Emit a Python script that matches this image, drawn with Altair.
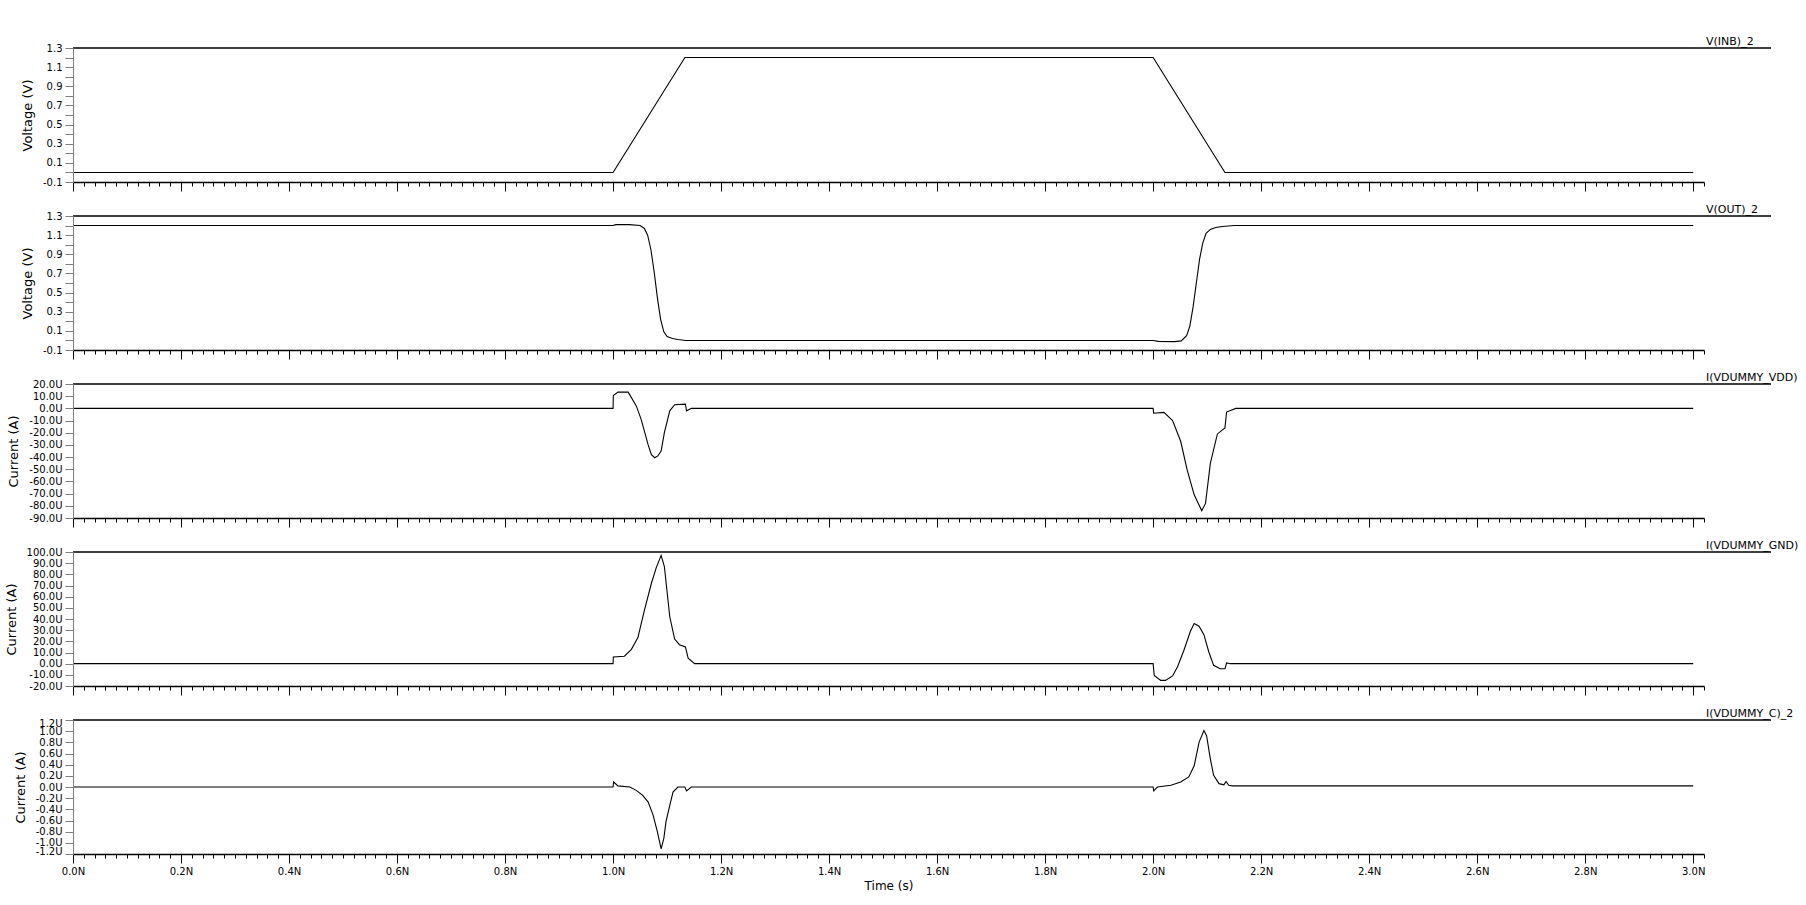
import altair as alt
import pandas as pd

# ---------------- data (time in ns, currents in uA) ----------------
t_inb = [0.0, 1.0, 1.133, 2.0, 2.133, 3.0]
v_inb = [0.0, 0.0, 1.2, 1.2, 0.0, 0.0]

t_out = [0.0, 1.0, 1.005, 1.03, 1.05, 1.058, 1.064, 1.07, 1.076, 1.082, 1.088, 1.094,
         1.10, 1.11, 1.12, 1.135, 1.15, 2.0, 2.01, 2.04, 2.052, 2.062, 2.068, 2.074,
         2.08, 2.086, 2.092, 2.098, 2.106, 2.116, 2.128, 2.15, 3.0]
v_out = [1.2, 1.2, 1.21, 1.21, 1.2, 1.17, 1.1, 0.95, 0.72, 0.45, 0.22, 0.09,
         0.04, 0.02, 0.01, 0.0, 0.0, 0.0, -0.01, -0.012, -0.005, 0.05, 0.15, 0.35,
         0.6, 0.85, 1.02, 1.12, 1.16, 1.18, 1.19, 1.2, 1.2]

t_vdd = [0.0, 1.0, 1.0005, 1.009, 1.028, 1.043, 1.052, 1.065, 1.071, 1.077, 1.083, 1.089,
         1.095, 1.105, 1.114, 1.134, 1.136, 1.145, 2.0, 2.001, 2.02, 2.036, 2.051, 2.063,
         2.076, 2.09, 2.097, 2.106, 2.119, 2.133, 2.136, 2.153, 3.0]
i_vdd = [0.0, 0.0, 10.5, 13.3, 13.3, 2.0, -9.0, -30.0, -38.0, -40.5, -39.0, -35.0,
         -20.0, -2.0, 3.0, 3.5, -2.0, 0.0, 0.0, -4.0, -3.3, -10.0, -27.0, -50.5,
         -71.0, -84.0, -78.0, -45.0, -21.0, -16.0, -3.0, 0.0, 0.0]

t_gnd = [0.0, 1.0, 1.0005, 1.021, 1.034, 1.046, 1.058, 1.071, 1.080, 1.089, 1.095, 1.105,
         1.114, 1.123, 1.134, 1.139, 1.151, 2.0, 2.002, 2.014, 2.023, 2.036, 2.045, 2.057,
         2.069, 2.076, 2.085, 2.094, 2.103, 2.112, 2.124, 2.133, 2.136, 2.143, 3.0]
i_gnd = [0.0, 0.0, 6.0, 6.7, 12.8, 23.4, 47.8, 72.0, 86.0, 97.0, 87.0, 42.0,
         22.0, 17.0, 15.0, 5.0, 0.0, 0.0, -10.6, -15.0, -15.0, -11.0, -3.0, 12.0,
         29.0, 36.0, 33.5, 26.0, 10.7, -1.5, -4.6, -4.6, 0.6, 0.0, 0.0]

t_c = [0.0, 1.0, 1.001, 1.009, 1.031, 1.043, 1.055, 1.065, 1.074, 1.082, 1.089, 1.094,
       1.098, 1.105, 1.111, 1.12, 1.133, 1.136, 1.145, 2.0, 2.001, 2.008, 2.033, 2.051,
       2.066, 2.076, 2.085, 2.094, 2.099, 2.106, 2.112, 2.122, 2.131, 2.135, 2.14, 2.147, 3.0]
i_c = [0.0, 0.0, 0.09, 0.02, 0.0, -0.06, -0.15, -0.27, -0.5, -0.8, -1.11, -0.92,
       -0.62, -0.33, -0.09, 0.0, 0.0, -0.07, 0.0, 0.0, -0.07, 0.0, 0.03, 0.09,
       0.18, 0.38, 0.8, 1.01, 0.92, 0.5, 0.21, 0.06, 0.04, 0.1, 0.03, 0.02, 0.02]

names = ["V(INB)_2", "V(OUT)_2", "I(VDUMMY_VDD)", "I(VDUMMY_GND)", "I(VDUMMY_C)_2"]
ytitles = ["Voltage (V)", "Voltage (V)", "Current (A)", "Current (A)", "Current (A)"]
domains = [[-0.1, 1.3], [-0.1, 1.3], [-90, 20], [-20, 100], [-1.2, 1.2]]
volt_ticks = [round(-0.1 + 0.1 * k, 1) for k in range(15)]
yticks = [volt_ticks, volt_ticks,
          list(range(-90, 21, 10)), list(range(-20, 101, 10)),
          [-1.2, -1.0, -0.8, -0.6, -0.4, -0.2, 0.0, 0.2, 0.4, 0.6, 0.8, 1.0, 1.2]]
series_t = [t_inb, t_out, t_vdd, t_gnd, t_c]
series_v = [v_inb, v_out, i_vdd, i_gnd, i_c]

x_major = [round(0.2 * k, 1) for k in range(16)]
x_minor = [round(0.02 * k, 2) for k in range(152)]
x_domain = [0, 3.02]

W = 1631
H = 134
FONT = "DejaVu Sans"

volt_label = ("(abs(round(datum.value*10)) % 2 == 1) ? "
              "((datum.value < 0 ? '-' : '') + format(abs(datum.value), '.1f')) : ''")
cur_label = "(datum.value < -0.0001 ? '-' : '') + format(abs(datum.value), '.1f') + 'U'"


def yaxis(i):
    kw = dict(values=yticks[i], labelExpr=volt_label if i < 2 else cur_label,
              domainColor="#808080", tickColor="#808080", tickSize=8,
              labelPadding=3, labelOverlap=False,
              labelFont=FONT, labelFontSize=10, zindex=2,
              labelColor="black", grid=False, titleFont=FONT, titleFontSize=13,
              titleFontWeight="normal", titlePadding=8, titleColor="black")
    if i == 4:
        kw["labelFlush"] = True
        kw["labelFlushOffset"] = 2
    else:
        kw["labelFlush"] = False
    return alt.Axis(**kw)


def panel(i):
    last = i == 4
    df = pd.DataFrame({"t": series_t[i], "v": series_v[i]})
    ysc = alt.Scale(domain=domains[i], nice=False, zero=False)
    xsc = alt.Scale(domain=x_domain, nice=False, zero=False)

    def yenc(field):
        return alt.Y(f"{field}:Q", scale=ysc, axis=yaxis(i), title=ytitles[i])

    major_axis = alt.Axis(values=x_major, orient="bottom", tickSize=9, tickColor="black",
                          domainColor="black", domainWidth=1.5, grid=False,
                          labels=last, labelExpr="format(datum.value, '.1f') + 'N'",
                          labelFont=FONT, labelFontSize=10, labelColor="black",
                          labelPadding=3, labelFlush=False, labelOverlap=False,
                          title="Time (s)" if last else None,
                          titleFont=FONT, titleFontSize=12, titleFontWeight="normal",
                          titlePadding=4, titleColor="black")
    minor_axis = alt.Axis(values=x_minor, orient="bottom", tickSize=4, tickColor="black",
                          domain=False, labels=False, grid=False, title=None)

    line = alt.Chart(df).mark_line(color="black", strokeWidth=1.1, clip=True).encode(
        x=alt.X("t:Q", scale=xsc, axis=major_axis), y=yenc("v"))
    minor = alt.Chart(df).mark_line(strokeOpacity=0).encode(
        x=alt.X("t:Q", scale=xsc, axis=minor_axis), y=yenc("v"))

    lab = pd.DataFrame({"name": [names[i]], "top": [domains[i][1]]})
    rule = alt.Chart(lab).mark_rule(color="black", strokeWidth=1.5).encode(
        y=yenc("top"), x=alt.value(0), x2=alt.value(W + 67))
    text = alt.Chart(lab).mark_text(align="left", baseline="bottom", dx=2, dy=-1,
                                    font=FONT, fontSize=11, color="black").encode(
        y=yenc("top"), x=alt.value(W), text="name:N")

    return alt.layer(line, minor, rule, text).resolve_axis(x="independent").properties(
        width=W, height=H)


chart = alt.vconcat(*[panel(i) for i in range(5)], spacing=34, bounds="flush").properties(
    padding={"left": 5, "top": 36, "right": 5, "bottom": 5},
    background="white",
).configure_view(stroke=None)

chart.save("out.html", embed_options={"renderer": "svg", "actions": False})
